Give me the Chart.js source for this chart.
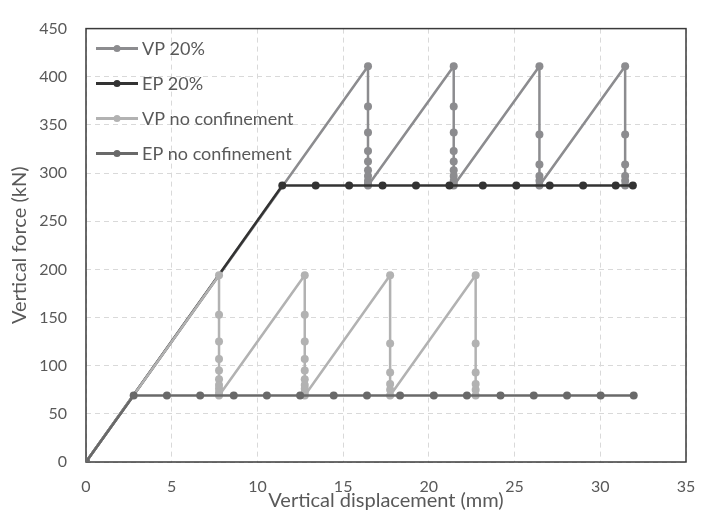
<!DOCTYPE html>
<html>
<head>
<meta charset="utf-8">
<script src="https://cdn.jsdelivr.net/npm/chart.js@4"></script>
<style>
  html, body { margin: 0; padding: 0; background: #fff; }
  #wrap { width: 712px; height: 517px; }
</style>
</head>
<body>
<div id="wrap"><canvas id="forceChart" width="712" height="517"></canvas></div>
<script>
// series (displacement in mm, force in kN)
const vp20X = [0, 16.45, 16.45, 16.45, 16.45, 16.45, 16.45, 16.45, 16.45, 16.45, 16.45,
  21.45, 21.45, 21.45, 21.45, 21.45, 21.45, 21.45, 21.45, 21.45, 21.45,
  26.45, 26.45, 26.45, 26.45, 26.45, 26.45,
  31.45, 31.45, 31.45, 31.45, 31.45, 31.45];
const vp20Y = [0, 411, 369, 342, 323, 312, 303, 297, 292, 289, 287,
  411, 369, 342, 323, 312, 303, 297, 292, 289, 287,
  411, 340, 309, 297, 292, 287,
  411, 340, 309, 297, 292, 287];

const ep20X = [0, 11.45, 13.4, 15.35, 17.3, 19.25, 21.2, 23.15, 25.1, 27.05, 29.0, 30.9, 31.9];
const ep20Y = [0, 287, 287, 287, 287, 287, 287, 287, 287, 287, 287, 287, 287];

const vpNoX = [0, 7.76, 7.76, 7.76, 7.76, 7.76, 7.76, 7.76, 7.76, 7.76, 7.76,
  12.76, 12.76, 12.76, 12.76, 12.76, 12.76, 12.76, 12.76, 12.76, 12.76,
  17.74, 17.74, 17.74, 17.74, 17.74, 17.74,
  22.73, 22.73, 22.73, 22.73, 22.73, 22.73];
const vpNoY = [0, 194, 153, 125, 107, 95, 86, 80, 76, 72, 69,
  194, 153, 125, 107, 95, 86, 80, 76, 72, 69,
  194, 123, 93, 81, 75, 69,
  194, 123, 93, 81, 75, 69];

const epNoX = [0, 2.78, 4.72, 6.66, 8.62, 10.55, 12.49, 14.45, 16.39, 18.32, 20.29,
  22.22, 24.18, 26.12, 28.06, 30.02, 31.95];
const epNoY = [0, 69, 69, 69, 69, 69, 69, 69, 69, 69, 69, 69, 69, 69, 69, 69, 69];

const seriesNames = ["VP 20%", "EP 20%", "VP no confinement", "EP no confinement"];
const seriesColors = ["#8c8c8f", "#333333", "#b2b2b2", "#696969"];

const xTicks = [0, 5, 10, 15, 20, 25, 30, 35];
const yTicks = [0, 50, 100, 150, 200, 250, 300, 350, 400, 450];

function toPoints(xs, ys) {
  return xs.map((x, i) => ({ x: x, y: ys[i] }));
}

const textGrey = "#595959";

// frame round the plot area
const framePlugin = {
  id: "frame",
  beforeDatasetsDraw(chart) {
    const a = chart.chartArea;
    const c = chart.ctx;
    c.save();
    c.strokeStyle = "#3a3a3a";
    c.lineWidth = 1.5;
    c.strokeRect(a.left, a.top, a.right - a.left, a.bottom - a.top);
    c.restore();
  }
};

// legend inside the plot, top left: line with a dot in the middle
const innerLegend = {
  id: "innerLegend",
  afterDraw(chart) {
    const a = chart.chartArea;
    const c = chart.ctx;
    c.save();
    chart.data.datasets.forEach((ds, i) => {
      const y = a.top + 20 + i * 35;
      const x0 = a.left + 10;
      c.strokeStyle = ds.borderColor;
      c.lineWidth = 3;
      c.beginPath();
      c.moveTo(x0, y);
      c.lineTo(x0 + 42, y);
      c.stroke();
      c.fillStyle = ds.borderColor;
      c.beginPath();
      c.arc(x0 + 21, y, 3.5, 0, Math.PI * 2);
      c.fill();
      c.fillStyle = textGrey;
      c.font = "18px Lato";
      c.textAlign = "left";
      c.textBaseline = "middle";
      c.fillText(ds.label, x0 + 46, y + 1);
    });
    c.restore();
  }
};

const xs = [vp20X, ep20X, vpNoX, epNoX];
const ys = [vp20Y, ep20Y, vpNoY, epNoY];

const ctx = document.getElementById("forceChart").getContext("2d");
const forceChart = new Chart(ctx, {
  type: "scatter",
  data: {
    datasets: seriesNames.map((name, i) => ({
      label: name,
      data: toPoints(xs[i], ys[i]),
      showLine: true,
      borderColor: seriesColors[i],
      backgroundColor: seriesColors[i],
      pointBackgroundColor: seriesColors[i],
      pointBorderWidth: 0,
      pointRadius: 4,
      borderWidth: 2.5,
      order: 4 - i
    }))
  },
  options: {
    responsive: false,
    animation: false,
    layout: { padding: { left: 0, top: 15, right: 26, bottom: 0 } },
    plugins: {
      legend: { display: false },
      tooltip: { enabled: false }
    },
    scales: {
      x: {
        type: "linear",
        min: 0,
        max: 35,
        afterFit: (s) => { s.height = 55; },
        afterBuildTicks: (s) => { s.ticks = xTicks.map(v => ({ value: v })); },
        grid: { color: "#d9d9d9", drawTicks: false, lineWidth: 1 },
        border: { display: false, dash: [5, 4] },
        ticks: { color: textGrey, font: { family: "Lato", size: 16 }, padding: 15 },
        title: {
          display: true,
          text: "Vertical displacement (mm)",
          color: textGrey,
          font: { family: "Lato", size: 20 },
          padding: { top: 0, bottom: 4 }
        }
      },
      y: {
        type: "linear",
        min: 0,
        max: 450,
        afterFit: (s) => { s.width = 86; },
        afterBuildTicks: (s) => { s.ticks = yTicks.map(v => ({ value: v })); },
        grid: { color: "#d9d9d9", drawTicks: false, lineWidth: 1 },
        border: { display: false, dash: [5, 4] },
        ticks: { color: textGrey, font: { family: "Lato", size: 16 }, padding: 19 },
        title: {
          display: true,
          text: "Vertical force (kN)",
          color: textGrey,
          font: { family: "Lato", size: 20 },
          padding: { top: 8, bottom: 0 }
        }
      }
    }
  },
  plugins: [framePlugin, innerLegend]
});
</script>
</body>
</html>
